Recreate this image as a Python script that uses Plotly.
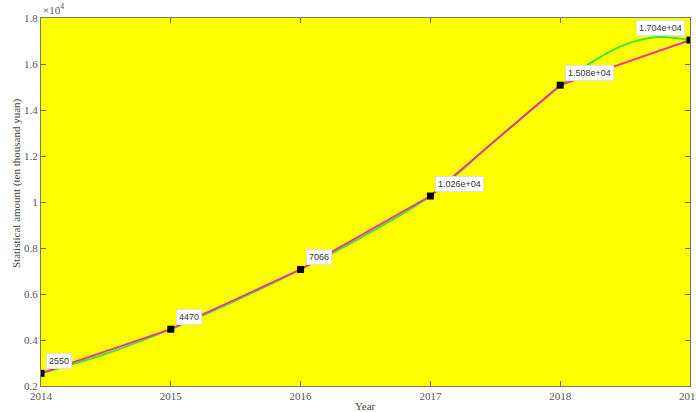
import plotly.graph_objects as go

# Yearly statistical amounts (unit: 10^4 ten thousand yuan)
years = [2014, 2015, 2016, 2017, 2018, 2019]
amounts = [0.2550, 0.4470, 0.7066, 1.026, 1.508, 1.704]
point_labels = ["2550", "4470", "7066", "1.026e+04", "1.508e+04", "1.704e+04"]

# Smoothed fit curve, sampled
fit_years = [2014, 2014.5, 2015, 2015.5, 2016, 2016.5, 2017, 2017.5, 2018, 2018.25, 2018.5, 2018.75, 2019]
fit_values = [0.255, 0.340, 0.447, 0.571, 0.7066, 0.856, 1.026, 1.268, 1.505, 1.610, 1.684, 1.717, 1.704]

y_ticks = [0.2, 0.4, 0.6, 0.8, 1.0, 1.2, 1.4, 1.6, 1.8]
y_tick_text = ["0.2", "0.4", "0.6", "0.8", "1", "1.2", "1.4", "1.6", "1.8"]

W, H = 696, 412
M = dict(l=41, r=6, t=18, b=26)

fig = go.Figure()

fig.add_trace(go.Scatter(
    x=fit_years, y=fit_values, mode="lines",
    line=dict(color="#3de83d", width=2, shape="spline", smoothing=1.0),
    hoverinfo="skip", showlegend=False,
))
fig.add_trace(go.Scatter(
    x=years, y=amounts, mode="lines",
    line=dict(color="#f0359a", width=2),
    showlegend=False,
))
fig.add_trace(go.Scatter(
    x=years, y=amounts, mode="markers",
    marker=dict(symbol="square", size=7, color="black"),
    showlegend=False,
))

for i, (xv, yv, txt) in enumerate(zip(years, amounts, point_labels)):
    last = i == len(years) - 1
    fig.add_annotation(
        x=xv, y=yv, text=txt, showarrow=False,
        xanchor="right" if last else "left", yanchor="bottom",
        xshift=-5 if last else 5, yshift=4,
        font=dict(family="Liberation Sans, Arial", size=9, color="#333333"),
        bgcolor="white", bordercolor="#e0e0e0", borderwidth=1, borderpad=2,
    )

serif = "Liberation Serif, Times New Roman"
tick_font = dict(family=serif, size=11, color="#555555")
title_font = dict(family=serif, size=11, color="#444444")

# exponent marker above the y axis
fig.add_annotation(
    xref="paper", yref="paper", x=0, y=1, xanchor="left", yanchor="bottom",
    text="×10<sup>4</sup>", showarrow=False,
    font=dict(family=serif, size=11, color="#555555"),
)

plot_h = H - M["t"] - M["b"]

# the last year's tick label sits on the right edge of the page
fig.add_annotation(
    x=years[-1], xref="x", yref="paper", y=-10 / plot_h,
    xanchor="center", yanchor="middle", text=str(years[-1]),
    showarrow=False, font=tick_font,
)

# axis titles
fig.add_annotation(
    xref="paper", yref="paper", x=0.5, y=-20 / plot_h, xanchor="center", yanchor="middle",
    text="Year", showarrow=False, font=title_font,
)
fig.add_annotation(
    xref="paper", yref="paper", x=-25 / (W - M["l"] - M["r"]),
    y=1 - (183 - M["t"]) / plot_h, xanchor="center", yanchor="middle",
    text="Statistical amount (ten thousand yuan)", textangle=-90,
    showarrow=False, font=title_font,
)

fig.update_layout(
    width=W, height=H,
    margin=M,
    paper_bgcolor="white",
    plot_bgcolor="#ffff00",
    xaxis=dict(
        range=[2014, 2019], tickvals=years[:-1], ticktext=[str(y) for y in years[:-1]],
        ticks="inside", ticklen=5, tickcolor="#666666",
        showline=True, linecolor="#7a7a5a", linewidth=1, mirror="ticks",
        showgrid=False, zeroline=False, tickfont=tick_font, automargin=False,
    ),
    yaxis=dict(
        range=[0.2, 1.8], tickvals=y_ticks, ticktext=y_tick_text,
        ticks="inside", ticklen=5, tickcolor="#666666",
        showline=True, linecolor="#7a7a5a", linewidth=1, mirror="ticks",
        showgrid=False, zeroline=False, tickfont=tick_font, automargin=False,
    ),
)

fig.write_html("out.html")
